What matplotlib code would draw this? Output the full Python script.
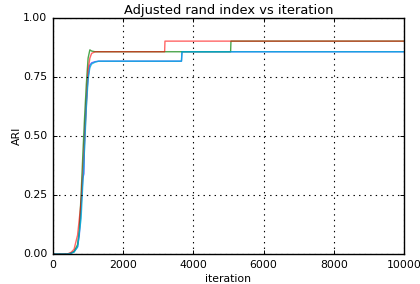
import matplotlib
matplotlib.use("Agg")
import matplotlib.pyplot as plt

plt.style.use('classic')
plt.rcParams['font.size'] = 7.8

# iteration grids and ARI values for each run
red_x = [0, 400, 500, 600, 700, 800, 850, 900, 950, 1000, 1050, 1100, 1200, 3180, 3190, 10000]
red_y = [0.0, 0.0, 0.005, 0.02, 0.08, 0.22, 0.35, 0.48, 0.63, 0.78, 0.83, 0.85, 0.857, 0.857, 0.902, 0.902]

green_x = [0, 400, 500, 600, 700, 750, 800, 850, 900, 950, 1000, 1050, 1100, 1200, 5060, 5070, 10000]
green_y = [0.0, 0.0, 0.003, 0.01, 0.04, 0.10, 0.25, 0.42, 0.58, 0.72, 0.83, 0.865, 0.86, 0.857, 0.857, 0.902, 0.902]

blue_x = [0, 400, 500, 600, 700, 750, 800, 850, 880, 900, 950, 1000, 1050, 1100, 1200, 1300, 3660, 3675, 10000]
blue_y = [0.0, 0.0, 0.003, 0.01, 0.03, 0.08, 0.20, 0.32, 0.34, 0.50, 0.65, 0.75, 0.80, 0.81, 0.815, 0.817, 0.817, 0.857, 0.857]

cyan_x = [0, 400, 500, 600, 700, 800, 850, 900, 950, 1000, 1050, 1100, 1200, 1300, 3660, 3675, 10000]
cyan_y = [0.0, 0.0, 0.002, 0.008, 0.03, 0.15, 0.30, 0.45, 0.62, 0.74, 0.79, 0.805, 0.813, 0.817, 0.817, 0.857, 0.857]

xticks = [0, 2000, 4000, 6000, 8000, 10000]
yticks = [0.0, 0.25, 0.5, 0.75, 1.0]

fig = plt.figure(figsize=(4.2, 2.84), dpi=100)
ax = fig.add_axes([53/420, 30/284, 351/420, 236/284])

ax.plot(blue_x, blue_y, color='b', alpha=0.6, lw=1.0)
ax.plot(green_x, green_y, color='g', alpha=0.7, lw=1.0)
ax.plot(red_x, red_y, color='r', alpha=0.6, lw=1.0)
ax.plot(cyan_x, cyan_y, color='#00b0d8', alpha=0.8, lw=1.0)

ax.set_xlim(0, 10000)
ax.set_ylim(0, 1.0)
ax.set_xticks(xticks)
ax.set_yticks(yticks)
ax.set_yticklabels(['0.00', '0.25', '0.50', '0.75', '1.00'])
ax.tick_params(length=3, width=0.7)
ax.grid(True, color='k', linestyle=':', linewidth=0.8)
ax.set_xlabel('iteration', labelpad=3)
ax.set_ylabel('ARI', labelpad=1)
ax.set_title('Adjusted rand index vs iteration', pad=3)

fig.savefig('out.png', dpi=100)
